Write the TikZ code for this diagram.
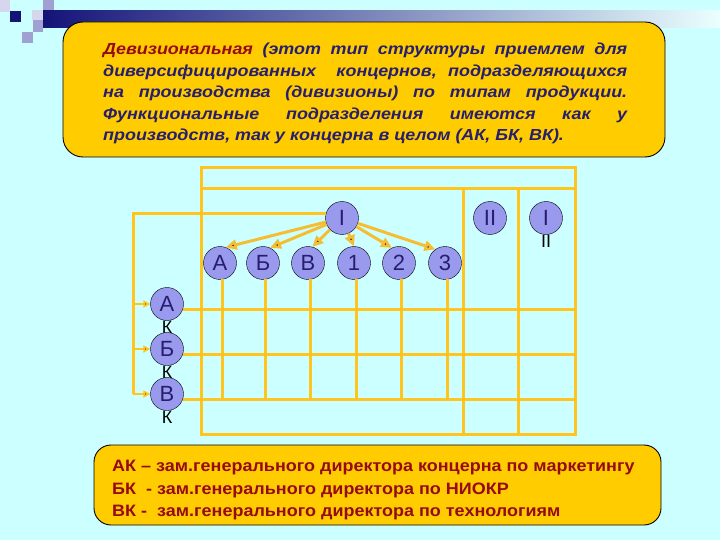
\documentclass[tikz,border=0pt]{standalone}
\usepackage{fontspec}
\setmainfont{Liberation Sans}
\newfontfamily\introfont[FakeStretch=1.12]{Liberation Sans}
\newfontfamily\legendfont[FakeStretch=1.09]{Liberation Sans}
\usetikzlibrary{arrows.meta}

\definecolor{bgcyan}{RGB}{204,255,255}
\definecolor{boxyellow}{RGB}{255,204,0}
\definecolor{unitblue}{RGB}{153,153,238}
\definecolor{gridorange}{RGB}{255,196,30}
\definecolor{arrowgold}{RGB}{245,190,50}
\definecolor{navytext}{RGB}{40,30,110}
\definecolor{redtext}{RGB}{150,10,20}
\definecolor{navybar}{RGB}{20,20,120}
\definecolor{lavlight}{RGB}{214,214,236}
\definecolor{lavmid}{RGB}{160,160,210}

\begin{document}
\begin{tikzpicture}
      [ x=1pt, y=-1pt
      , panel/.style={draw=black, fill=boxyellow, line width=0.9pt, rounded corners=20pt}
      , unit/.style={circle, draw=black, fill=unitblue, minimum size=33pt, inner sep=0pt,
                     font=\fontsize{22}{22}\selectfont, text=navytext}
      , subtag/.style={inner sep=0pt, font=\fontsize{18}{18}\selectfont}
      , frame/.style={draw=gridorange, line width=3pt}
      , fork/.style={draw=arrowgold, line width=3pt,
                     every edge/.append style={-{Triangle[length=11pt, width=10pt]}}}
      , feed/.style={draw=gridorange, line width=3pt}
      , tipped/.style={line width=2pt, -{Triangle[length=7pt, width=7pt]}}
      ]
    % slide background
    \fill[bgcyan] (0,0) rectangle (720,540);
    \shade[left color=navybar, right color=bgcyan!40!white] (43,11) rectangle (720,28);
    \fill[lavlight] (0,0) rectangle (10,12);
    \fill[navybar] (10,11) rectangle (21,22);
    \fill[lavlight] (32,10) rectangle (43,20);
    \fill[lavmid] (43,0) rectangle (54,10);
    \fill[lavmid] (33,20) rectangle (43,32);
    \fill[lavmid] (22,32) rectangle (33,43);

    % top text
    \draw[panel] (63,22) rectangle (665,157);
    \node[anchor=north west, inner sep=0pt, text width=524pt, align=justify, text=navytext,
          font=\introfont\fontsize{16}{21.5}\selectfont\bfseries\itshape] (intro) at (103,43)
      {{\color{redtext}Девизиональная} (этот тип структуры приемлем для\linebreak
       диверсифицированных\ \ концернов, подразделяющихся\linebreak
       на производства (дивизионы) по типам продукции.\linebreak
       Функциональные подразделения имеются как у\linebreak
       производств, так у концерна в целом (АК, БК, ВК).};

    % table frame
    \coordinate (NW) at (201,168);
    \coordinate (SE) at (575,434);
    \draw[frame] (NW) rectangle (SE);
    \draw[frame] (201,189) -- (575,189);
    \draw[frame] (463,189) -- (463,434);
    \draw[frame] (518,189) -- (518,434);

    \node[unit] (I) at (342,218) {I};
    \node[unit] (II) at (490,218) {II};
    \node[unit, label={[subtag]below:II}] (III) at (546,218) {I};

    \node[unit] (A) at (220,263) {А};
    \node[unit] (B) at (263,263) {Б};
    \node[unit] (V) at (308,263) {В};
    \node[unit] (P1) at (354,263) {1};
    \node[unit] (P2) at (399,263) {2};
    \node[unit] (P3) at (445,263) {3};

    \node[unit, label={[subtag]below:К}] (AK) at (167,304) {А};
    \node[unit, label={[subtag]below:К}] (BK) at (167,349) {Б};
    \node[unit, label={[subtag]below:К}] (VK) at (167,394) {В};

    \coordinate (bus) at (133,212);

    \draw[fork]
    (I) edge (A.70)
    (I) edge (B.65)
    (I) edge (V.75)
    (I) edge (P1.north)
    (I) edge (P2.115)
    (I) edge (P3.125);

    \draw[feed] (I.165) -- (I.165 -| bus) -- (bus |- VK);
    \draw[feed]
    (bus |- AK) edge[tipped] (AK)
    (bus |- BK) edge[tipped] (BK)
    (bus |- VK) edge[tipped] (VK);

    % rows and columns
    \draw[frame] (AK.-20) -- (AK.-20 -| SE);
    \draw[frame] (BK.-20) -- (BK.-20 -| SE);
    \draw[frame] (VK.-20) -- (VK.-20 -| SE);
    \foreach \u in {A,B,V,P1,P2,P3}
      \draw[frame] (\u.-80) -- (\u.-80 |- VK.-20);

    % legend
    \draw[panel, rounded corners=17pt] (94,445) rectangle (661,525);
    \node[anchor=north west, inner sep=0pt, align=left, text=redtext,
          font=\legendfont\fontsize{16.5}{22.5}\selectfont\bfseries] (legend) at (112,460)
      {АК – зам.генерального директора концерна по маркетингу\\
       БК\ \ - зам.генерального директора по НИОКР\\
       ВК -\ \ зам.генерального директора по технологиям};
\end{tikzpicture}
\end{document}
